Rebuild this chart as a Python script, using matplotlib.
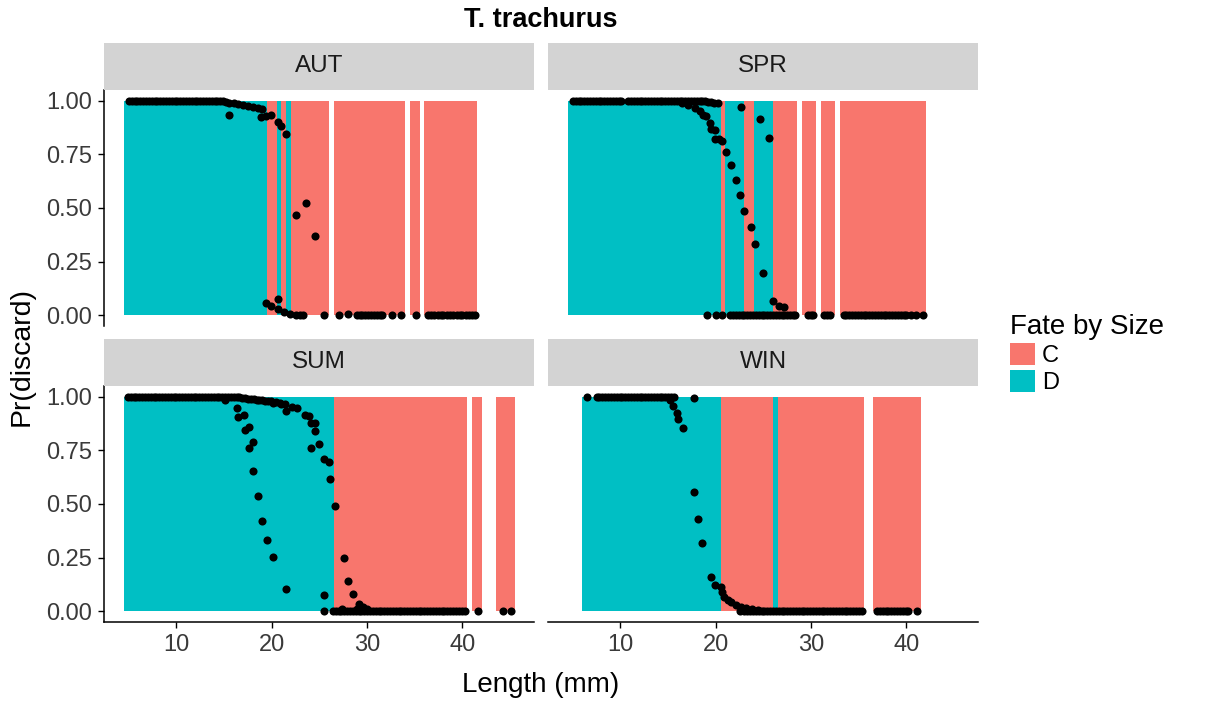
import matplotlib.pyplot as plt
from matplotlib.patches import Patch

plt.rcParams['font.family'] = ['Liberation Sans', 'DejaVu Sans']

seasons = ['AUT', 'SPR', 'SUM', 'WIN']
fate_levels = ['C', 'D']
fate_colors = {'C': '#F8766D', 'D': '#00BFC4'}

# length classes: lower edge, upper edge (mm) and fate of the class
aut_lo = [4.5, 19.5, 20.5, 21.0, 21.5, 22.0, 26.5, 34.5, 36.0]
aut_hi = [19.5, 20.5, 21.0, 21.5, 22.0, 26.0, 34.0, 35.5, 41.5]
aut_fate = ['D', 'C', 'D', 'C', 'D', 'C', 'C', 'C', 'C']

spr_lo = [4.5, 20.5, 21.0, 23.0, 24.0, 26.0, 29.0, 31.0, 33.0]
spr_hi = [20.5, 21.0, 23.0, 24.0, 26.0, 28.5, 30.5, 32.5, 42.0]
spr_fate = ['D', 'C', 'D', 'C', 'D', 'C', 'C', 'C', 'C']

sum_lo = [4.5, 26.5, 41.0, 43.5]
sum_hi = [26.5, 40.5, 42.0, 45.5]
sum_fate = ['D', 'C', 'C', 'C']

win_lo = [6.0, 20.5, 26.0, 26.5, 36.5]
win_hi = [20.5, 26.0, 26.5, 35.5, 41.5]
win_fate = ['D', 'C', 'D', 'C', 'C']

# predicted probability of discard by length
aut_len = [5.0, 5.3, 5.6, 5.9, 6.2, 6.5, 6.8, 7.1, 7.4, 7.7,
           8.0, 8.3, 8.6, 8.9, 9.2, 9.5, 9.8, 10.1, 10.4, 10.7,
           11.0, 11.3, 11.6, 11.9, 12.2, 12.5, 12.8, 13.1, 13.4, 13.7,
           14.0, 14.3, 14.6, 14.9,
           15.2, 15.5, 15.5, 16.0, 16.5, 17.0, 17.5, 18.0, 18.5, 19.0,
           18.9, 19.4, 19.9, 20.7, 21.0, 21.5,
           22.5, 23.6, 24.5,
           19.4, 19.9, 20.6, 20.7, 21.3, 21.9, 22.5, 23.0, 23.3,
           25.5, 27.0, 28.0, 28.9, 29.2, 29.5, 29.8, 30.1, 30.4, 30.7,
           31.0, 31.3, 31.6, 32.6, 33.6, 35.1, 36.4, 36.7, 37.0, 37.4,
           37.7, 38.0, 38.4, 38.7, 39.0, 39.4, 39.7, 40.0, 40.4, 40.7,
           41.0, 41.3]
aut_p = [1.0, 1.0, 1.0, 1.0, 1.0, 1.0, 1.0, 1.0, 1.0, 1.0,
         1.0, 1.0, 1.0, 1.0, 1.0, 1.0, 1.0, 1.0, 1.0, 1.0,
         1.0, 1.0, 1.0, 1.0, 1.0, 1.0, 1.0, 1.0, 1.0, 1.0,
         1.0, 1.0, 1.0, 1.0,
         0.995, 0.99, 0.934, 0.99, 0.985, 0.98, 0.975, 0.97, 0.965, 0.96,
         0.923, 0.93, 0.934, 0.903, 0.88, 0.843,
         0.468, 0.524, 0.369,
         0.059, 0.042, 0.074, 0.027, 0.014, 0.006, 0.003, 0.002, 0.002,
         0.0, 0.0, 0.008, 0.0, 0.0, 0.0, 0.0, 0.0, 0.0, 0.0,
         0.0, 0.0, 0.0, 0.0, 0.0, 0.0, 0.0, 0.0, 0.0, 0.0,
         0.0, 0.0, 0.0, 0.0, 0.0, 0.0, 0.0, 0.0, 0.0, 0.0,
         0.0, 0.0]

spr_len = [5.0, 5.3, 5.6, 5.9, 6.2, 6.5, 6.8, 7.1, 7.4, 7.7,
           8.0, 8.3, 8.6, 8.9, 9.2, 9.5, 9.8, 10.1,
           10.8, 11.1, 11.4, 11.7, 12.0, 12.3, 12.6, 12.9, 13.2, 13.5,
           13.8, 14.1, 14.4, 14.7, 15.0, 15.3, 15.6, 15.9, 16.2, 16.5,
           16.8, 17.1, 17.4, 17.7, 18.0, 18.3, 18.6, 18.9, 19.2, 19.5,
           19.8, 20.2,
           16.5, 17.1, 17.8, 18.3, 18.7, 19.0, 19.4, 19.5, 19.9, 19.9,
           20.3, 20.7, 21.1, 21.6, 22.1, 22.5, 23.0, 23.7, 24.1, 25.0,
           26.0, 26.6, 27.2,
           22.6, 24.6, 25.6,
           19.1, 20.0, 20.7, 21.5, 21.8, 22.1, 22.4, 22.7, 23.0, 23.3,
           23.6, 23.9, 24.2, 24.5, 24.8, 25.1, 25.4, 25.7, 26.0, 26.3,
           26.6, 26.9, 27.2, 27.5, 27.8, 28.1, 28.3, 29.7, 30.0, 30.2,
           31.4, 31.7, 32.0, 33.4, 33.7, 34.0, 34.3, 34.6, 34.9, 35.2,
           35.5, 35.8, 36.1, 36.4, 36.7, 37.0, 37.3, 37.6, 37.9, 38.2,
           38.5, 38.8, 39.1, 39.4, 39.7, 40.0, 40.5, 41.0, 41.7]
spr_p = [1.0, 1.0, 1.0, 1.0, 1.0, 1.0, 1.0, 1.0, 1.0, 1.0,
         1.0, 1.0, 1.0, 1.0, 1.0, 1.0, 1.0, 1.0,
         1.0, 1.0, 1.0, 1.0, 1.0, 1.0, 1.0, 1.0, 1.0, 1.0,
         1.0, 1.0, 1.0, 1.0, 1.0, 1.0, 1.0, 1.0, 1.0, 1.0,
         1.0, 1.0, 1.0, 1.0, 1.0, 1.0, 1.0, 1.0, 0.995, 0.995,
         0.99, 0.99,
         0.99, 0.98, 0.966, 0.95, 0.934, 0.93, 0.895, 0.87, 0.864, 0.82,
         0.82, 0.814, 0.762, 0.70, 0.629, 0.559, 0.488, 0.41, 0.332, 0.199,
         0.066, 0.045, 0.038,
         0.969, 0.914, 0.828,
         0.0, 0.0, 0.0, 0.0, 0.0, 0.0, 0.0, 0.0, 0.0, 0.0,
         0.0, 0.0, 0.0, 0.0, 0.0, 0.0, 0.0, 0.0, 0.0, 0.0,
         0.0, 0.0, 0.0, 0.0, 0.0, 0.0, 0.0, 0.0, 0.0, 0.0,
         0.0, 0.0, 0.0, 0.0, 0.0, 0.0, 0.0, 0.0, 0.0, 0.0,
         0.0, 0.0, 0.0, 0.0, 0.0, 0.0, 0.0, 0.0, 0.0, 0.0,
         0.0, 0.0, 0.0, 0.0, 0.0, 0.0, 0.0, 0.0, 0.0]

sum_len = [4.9, 5.2, 5.5, 5.8, 6.1, 6.4, 6.7, 7.0, 7.3, 7.6,
           7.9, 8.2, 8.5, 8.8, 9.1, 9.4, 9.7, 10.0, 10.3, 10.6,
           10.9, 11.2, 11.5, 11.8, 12.1, 12.4, 12.7, 13.0, 13.3, 13.6,
           13.9, 14.2, 14.5, 14.8, 15.1, 15.4, 15.7, 16.0, 16.3, 16.6,
           16.9, 17.2, 17.5, 17.8, 18.1, 18.4, 18.7, 19.0, 19.3, 19.6,
           19.9, 20.4, 20.9, 21.4,
           15.1, 16.3, 16.5, 17.1, 17.2, 17.6, 17.6, 18.0, 18.0, 18.6,
           19.0, 19.5, 20.1, 21.5,
           20.1, 21.0, 21.5, 22.1, 22.6, 23.5, 23.9, 24.1, 24.5, 24.5,
           25.0, 24.1, 25.5, 26.0, 26.1, 26.6, 27.6, 28.0, 28.5, 29.1,
           29.6, 30.0, 25.5, 27.4, 28.9,
           25.5, 26.4, 26.7, 27.0, 27.3, 27.6, 27.9, 28.2, 28.5, 28.8,
           29.1, 29.4, 29.7, 30.0, 30.3, 30.6, 30.9, 31.2, 31.5, 31.8,
           32.1, 32.4, 32.7, 33.0, 33.3, 33.6, 33.9, 34.2, 34.5, 34.8,
           35.1, 35.4, 35.7, 36.0, 36.3, 36.6, 36.9, 37.2, 37.5, 37.8,
           38.1, 38.4, 38.7, 39.0, 39.3, 39.6, 39.9, 40.3, 41.6, 44.2,
           45.1]
sum_p = [1.0, 1.0, 1.0, 1.0, 1.0, 1.0, 1.0, 1.0, 1.0, 1.0,
         1.0, 1.0, 1.0, 1.0, 1.0, 1.0, 1.0, 1.0, 1.0, 1.0,
         1.0, 1.0, 1.0, 1.0, 1.0, 1.0, 1.0, 1.0, 1.0, 1.0,
         1.0, 1.0, 1.0, 1.0, 1.0, 1.0, 1.0, 1.0, 1.0, 1.0,
         0.995, 0.995, 0.99, 0.99, 0.99, 0.985, 0.985, 0.985, 0.98, 0.98,
         0.98, 0.975, 0.97, 0.965,
         0.983, 0.949, 0.906, 0.914, 0.844, 0.858, 0.761, 0.789, 0.655, 0.535,
         0.423, 0.332, 0.254, 0.106,
         0.972, 0.964, 0.933, 0.952, 0.949, 0.914, 0.91, 0.878, 0.878, 0.839,
         0.78, 0.761, 0.711, 0.696, 0.616, 0.493, 0.246, 0.14, 0.08, 0.036,
         0.02, 0.01, 0.078, 0.012, 0.01,
         0.0, 0.0, 0.0, 0.0, 0.0, 0.0, 0.0, 0.0, 0.0, 0.0,
         0.0, 0.0, 0.0, 0.0, 0.0, 0.0, 0.0, 0.0, 0.0, 0.0,
         0.0, 0.0, 0.0, 0.0, 0.0, 0.0, 0.0, 0.0, 0.0, 0.0,
         0.0, 0.0, 0.0, 0.0, 0.0, 0.0, 0.0, 0.0, 0.0, 0.0,
         0.0, 0.0, 0.0, 0.0, 0.0, 0.0, 0.0, 0.0, 0.0, 0.0,
         0.0]

win_len = [6.5, 7.5, 7.8, 8.1, 8.4, 8.7, 9.0, 9.3, 9.6, 9.9,
           10.2, 10.5, 10.8, 11.1, 11.4, 11.7, 12.0, 12.3, 12.6, 12.9,
           13.2, 13.5, 13.8, 14.1, 14.4, 14.7, 15.0, 15.3, 15.6, 17.7,
           15.2, 15.5, 15.9, 16.05, 16.6,
           17.7, 18.15, 18.6, 19.5, 19.95, 20.5, 20.6, 20.9, 21.3, 21.6,
           22.1, 22.6, 23.2, 23.8, 24.4,
           22.5, 23.0, 23.3, 23.6, 23.9, 24.2, 24.5, 24.8, 25.1, 25.4,
           25.7, 26.0, 26.3, 26.6, 26.9, 27.2, 27.5, 27.8, 28.1, 28.4,
           28.7, 29.0, 29.3, 29.6, 29.9, 30.2, 30.5, 30.8, 31.1, 31.4,
           31.7, 32.0, 32.3, 32.6, 32.9, 33.2, 33.5, 33.8, 34.1, 34.4,
           34.7, 35.0, 35.3, 36.9, 37.2, 37.5, 37.8, 38.1, 38.4, 38.7,
           39.0, 39.3, 39.6, 39.9, 40.2, 41.1]
win_p = [1.0, 1.0, 1.0, 1.0, 1.0, 1.0, 1.0, 1.0, 1.0, 1.0,
         1.0, 1.0, 1.0, 1.0, 1.0, 1.0, 1.0, 1.0, 1.0, 1.0,
         1.0, 1.0, 1.0, 1.0, 1.0, 1.0, 1.0, 1.0, 1.0, 0.992,
         0.983, 0.956, 0.925, 0.894, 0.852,
         0.555, 0.429, 0.317, 0.161, 0.122, 0.114, 0.09, 0.067, 0.051, 0.041,
         0.028, 0.02, 0.016, 0.009, 0.006,
         0.0, 0.0, 0.0, 0.0, 0.0, 0.0, 0.0, 0.0, 0.0, 0.0,
         0.0, 0.0, 0.0, 0.0, 0.0, 0.0, 0.0, 0.0, 0.0, 0.0,
         0.0, 0.0, 0.0, 0.0, 0.0, 0.0, 0.0, 0.0, 0.0, 0.0,
         0.0, 0.0, 0.0, 0.0, 0.0, 0.0, 0.0, 0.0, 0.0, 0.0,
         0.0, 0.0, 0.0, 0.0, 0.0, 0.0, 0.0, 0.0, 0.0, 0.0,
         0.0, 0.0, 0.0, 0.0, 0.0, 0.0]

panels = {
    'AUT': (aut_lo, aut_hi, aut_fate, aut_len, aut_p),
    'SPR': (spr_lo, spr_hi, spr_fate, spr_len, spr_p),
    'SUM': (sum_lo, sum_hi, sum_fate, sum_len, sum_p),
    'WIN': (win_lo, win_hi, win_fate, win_len, win_p),
}

y_ticks = [0.0, 0.25, 0.5, 0.75, 1.0]
x_ticks = [10, 20, 30, 40]

W, H = 1230, 704
fig = plt.figure(figsize=(W / 100, H / 100), dpi=100)

col_x = [104 / W, 548 / W]
row_y = [1 - 326 / H, 1 - 622 / H]
pw, ph = 430 / W, 236 / H
strip_h = 47 / H
tick_grey = '#3A3A3A'

for i, season in enumerate(seasons):
    r, c = divmod(i, 2)
    lo, hi, fate, lens, probs = panels[season]
    ax = fig.add_axes([col_x[c], row_y[r], pw, ph])

    widths = [h - l for l, h in zip(lo, hi)]
    ax.bar(lo, [1.0] * len(lo), width=widths, align='edge',
           color=[fate_colors[f] for f in fate], linewidth=0, zorder=1)
    ax.scatter(lens, probs, s=34, color='black', linewidths=0, zorder=3)

    ax.set_xlim(2.4, 47.5)
    ax.set_ylim(-0.05, 1.05)
    ax.set_xticks(x_ticks)
    ax.set_yticks(y_ticks)
    ax.set_yticklabels(['%.2f' % v for v in y_ticks])
    for side in ['top', 'right']:
        ax.spines[side].set_visible(False)
    ax.spines['left'].set_visible(c == 0)
    ax.spines['bottom'].set_visible(r == 1)
    for side in ['left', 'bottom']:
        ax.spines[side].set_linewidth(1.1)
    ax.tick_params(axis='y', left=(c == 0), labelleft=(c == 0),
                   length=4.3, width=1.0, pad=4.0,
                   labelsize=17, labelcolor=tick_grey)
    ax.tick_params(axis='x', bottom=(r == 1), labelbottom=(r == 1),
                   length=4.3, width=1.0, pad=4.5,
                   labelsize=17, labelcolor=tick_grey)

    # facet strip
    sax = fig.add_axes([col_x[c], row_y[r] + ph, pw, strip_h])
    sax.set_facecolor('#D3D3D3')
    sax.set_xticks([])
    sax.set_yticks([])
    for sp in sax.spines.values():
        sp.set_visible(False)
    sax.text(0.5, 0.5, season, ha='center', va='center', fontsize=17.5,
             color='#1A1A1A', transform=sax.transAxes)

mid_x = (104 + 978) / 2 / W
fig.text(mid_x, 1 - 20 / H, 'T. trachurus', ha='center', va='center',
         fontsize=19.5, fontweight='bold')
fig.text(mid_x, 1 - 685 / H, 'Length (mm)', ha='center', va='center',
         fontsize=20)
fig.text(22 / W, 1 - 356 / H, 'Pr(discard)', ha='center', va='center',
         fontsize=20.5, rotation=90)

handles = [Patch(facecolor=fate_colors[f], edgecolor='none', label=f)
           for f in fate_levels]
fig.legend(handles=handles, title='Fate by Size', loc='upper left',
           bbox_to_anchor=(1010 / W, 1 - 314 / H), frameon=False,
           fontsize=17, title_fontsize=20, alignment='left',
           handlelength=1.05, handleheight=1.05, labelspacing=0.12,
           handletextpad=0.3, borderaxespad=0, borderpad=0)

fig.savefig('out.png', dpi=100)
